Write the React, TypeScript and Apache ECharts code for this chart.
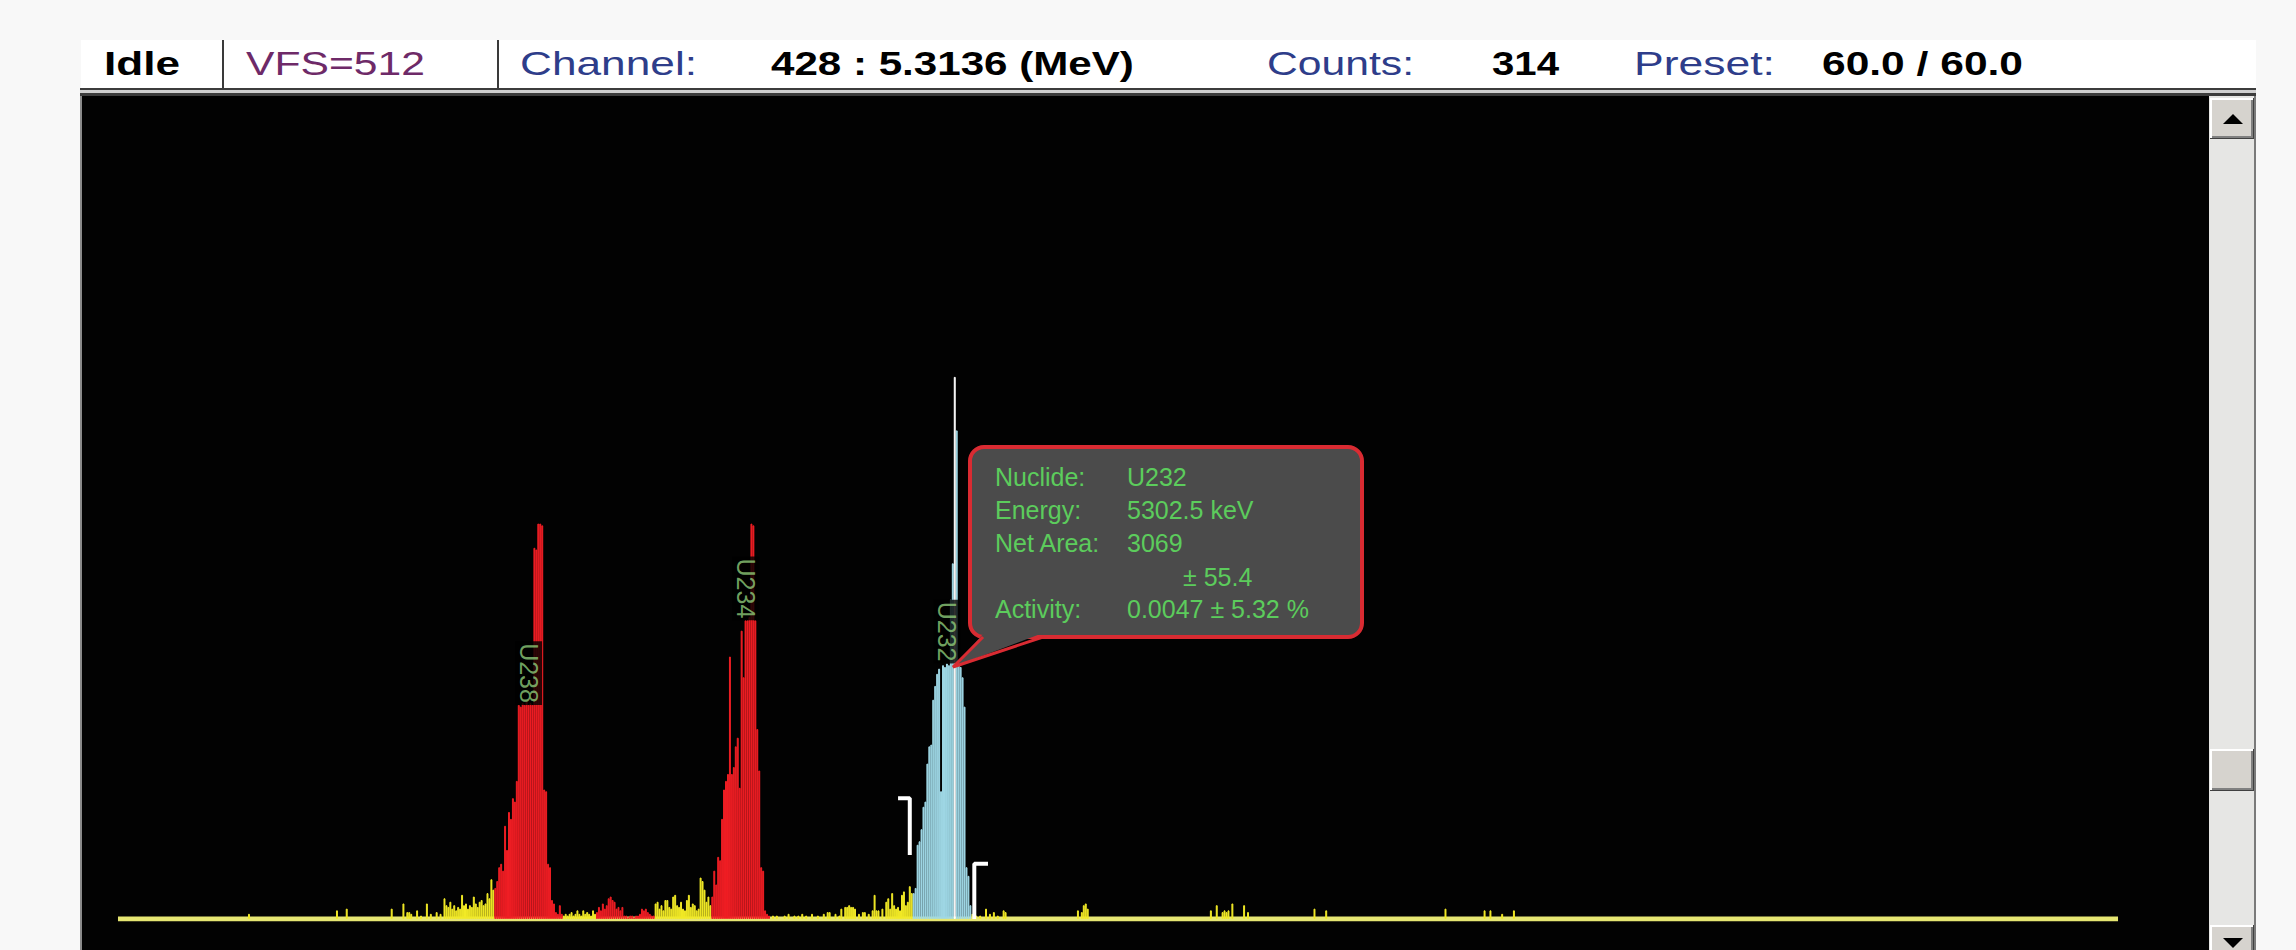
import React, { useEffect, useRef } from "react";
import * as echarts from "echarts";

// ---------- data ----------
const CHANNEL_COUNT = 1024;
const VERTICAL_FULL_SCALE = 512;

const statusText = "Idle";
const cursorChannel = 428;
const cursorEnergyMeV = 5.3136;
const cursorCounts = 314;
const presetElapsed = 60.0;
const presetTotal = 60.0;

// counts outside any region of interest (yellow) [channel, counts]
const backgroundCounts: [number, number][] = [
  [67, 3], [112, 5], [117, 6], [140, 6], [146, 9], [148, 4], [149, 4], [150, 3], [153, 5], [155, 2],
  [158, 9], [160, 3], [163, 4], [165, 3], [167, 12], [168, 8], [169, 7], [170, 10], [171, 6], [172, 8],
  [173, 5], [174, 7], [175, 6], [176, 14], [177, 8], [178, 9], [179, 6], [180, 8], [181, 7], [182, 13],
  [183, 9], [184, 7], [185, 10], [186, 11], [187, 8], [188, 9], [189, 15], [190, 12], [191, 23], [192, 17],
  [228, 2], [229, 3], [230, 2], [231, 3], [232, 4], [233, 2], [234, 3], [235, 5], [236, 3], [237, 2],
  [238, 5], [239, 3], [240, 4], [241, 3], [242, 2], [243, 5], [244, 3],
  [275, 9], [276, 10], [277, 6], [278, 8], [279, 5], [280, 11], [281, 11], [282, 7], [283, 6], [284, 13],
  [285, 14], [286, 8], [287, 7], [288, 10], [289, 6], [290, 5], [291, 11], [292, 14], [293, 7], [294, 9],
  [295, 8], [296, 5], [297, 6], [298, 24], [299, 22], [300, 17], [301, 10], [302, 13], [303, 8],
  [335, 2], [337, 2], [341, 2], [343, 3], [346, 2], [348, 2], [350, 3], [352, 2], [355, 3], [358, 2],
  [361, 3], [363, 4], [364, 4], [367, 3], [369, 2], [370, 6], [372, 7], [373, 7], [374, 8], [375, 7],
  [376, 7], [377, 6], [379, 3], [381, 4], [382, 4], [384, 3], [386, 5], [387, 14], [388, 5], [389, 5],
  [391, 6], [393, 10], [394, 12], [395, 6], [396, 15], [397, 8], [398, 6], [399, 7], [400, 5], [401, 14],
  [402, 16], [403, 8], [404, 10], [405, 19], [406, 15],
  [437, 3], [439, 2], [441, 2], [444, 6], [446, 3], [448, 4], [450, 2], [453, 5], [454, 4], [491, 5],
  [493, 4], [494, 8], [495, 9], [496, 6], [559, 5], [562, 8], [565, 4], [566, 5], [567, 4], [568, 5],
  [570, 9], [576, 8], [578, 4], [612, 6], [618, 5], [679, 6], [699, 5], [702, 5], [708, 3], [714, 5],
];

// U238 region (red)
const roiU238: [number, number][] = [
  [193, 18], [194, 22], [195, 30], [196, 32], [197, 28], [198, 54], [199, 40], [200, 62], [201, 58], [202, 70],
  [203, 68], [204, 80], [205, 124], [206, 123], [207, 125], [208, 124], [209, 126], [210, 124], [211, 125], [212, 124],
  [213, 215], [214, 214], [215, 229], [216, 229], [217, 228], [218, 75], [219, 74], [220, 32], [221, 30], [222, 11],
  [223, 9], [224, 4], [225, 3], [226, 8], [227, 3],
];

// U235 region (red, unlabelled)
const roiU235: [number, number][] = [
  [245, 4], [246, 7], [247, 5], [248, 9], [249, 6], [250, 8], [251, 12], [252, 13], [253, 11], [254, 10],
  [255, 6], [256, 7], [257, 5], [258, 7], [259, 2], [260, 2], [261, 1], [262, 2], [263, 2], [264, 1],
  [265, 2], [266, 2], [267, 3], [268, 6], [269, 5], [270, 6], [271, 4], [272, 3], [273, 2], [274, 2],
];

// U234 region (red)
const roiU234: [number, number][] = [
  [304, 13], [305, 28], [306, 20], [307, 36], [308, 34], [309, 58], [310, 75], [311, 80], [312, 84], [313, 152],
  [314, 84], [315, 88], [316, 100], [317, 105], [318, 76], [319, 167], [320, 140], [321, 173], [322, 173], [323, 175],
  [324, 229], [325, 228], [326, 173], [327, 110], [328, 86], [329, 30], [330, 28], [331, 5], [332, 3], [333, 2],
];

// U232 region (selected, light blue)
const roiU232: [number, number][] = [
  [407, 15], [408, 18], [409, 43], [410, 45], [411, 52], [412, 65], [413, 68], [414, 90], [415, 100], [416, 101],
  [417, 127], [418, 135], [419, 142], [420, 145], [421, 74], [422, 147], [423, 146], [424, 148], [425, 147], [426, 185],
  [427, 206], [428, 314], [429, 283], [430, 147], [431, 146], [432, 140], [433, 123], [434, 30], [435, 25], [436, 8],
];

const peakLabels = ["U238", "U234", "U232"];
const peakLabelChannels = [210, 321, 424];

// ROI boundary markers [channel, counts]
const roiLeftMarker: [number, number][] = [[399, 70], [405, 70], [405, 37]];
const roiRightMarker: [number, number][] = [[438, 0], [438, 32], [445, 32]];

// peak info box
const infoNuclide = "U232";
const infoEnergyKeV = 5302.5;
const infoNetArea = 3069;
const infoNetAreaErr = 55.4;
const infoActivity = "0.0047";
const infoActivityErrPct = 5.32;

// ---------- helpers ----------
const FONT = '"Liberation Sans", Arial, sans-serif';

function toDense(pairs: [number, number][]): (number | null)[] {
  const a: (number | null)[] = new Array(CHANNEL_COUNT).fill(null);
  pairs.forEach(([c, v]) => (a[c] = v));
  return a;
}

function measureScale(text: string, weight: string, size: number, target: number): number {
  const ctx = document.createElement("canvas").getContext("2d");
  if (!ctx) return 1;
  ctx.font = `${weight} ${size}px "Liberation Sans"`;
  const w = ctx.measureText(text).width;
  return w > 0 ? target / w : 1;
}

function buildOption() {
  const channels = Array.from({ length: CHANNEL_COUNT }, (_, i) => String(i));
  const redPairs = [...roiU238, ...roiU235, ...roiU234];
  const allDense = toDense([...backgroundCounts, ...redPairs, ...roiU232]);
  const blueNoCursor = roiU232.filter(([c]) => c !== cursorChannel);
  const cursorPair: [number, number][] = [[cursorChannel, cursorCounts]];

  const YELLOW = "#f2ea26";
  const RED = "#f01e24";
  const BLUE = "#9fd8e6";

  const barBase = (color: string, data: (number | null)[], z: number) => ({
    type: "bar",
    data,
    barWidth: "100%",
    barGap: "-100%",
    barCategoryGap: "0%",
    silent: true,
    z,
    itemStyle: { color, borderColor: color, borderWidth: 1 },
  });

  // header texts
  const headerY = 63;
  const headerSize = 34;
  const headerItems: [string, number, number, string, string][] = [
    [statusText, 104, 180, "#000000", "bold"],
    [`VFS=${VERTICAL_FULL_SCALE}`, 246, 425, "#6e2a68", "normal"],
    ["Channel:", 520, 697, "#2e3d8a", "normal"],
    [`${cursorChannel} : ${cursorEnergyMeV.toFixed(4)} (MeV)`, 771, 1134, "#000000", "bold"],
    ["Counts:", 1267, 1414, "#2e3d8a", "normal"],
    [`${cursorCounts}`, 1492, 1559, "#000000", "bold"],
    ["Preset:", 1634, 1775, "#2e3d8a", "normal"],
    [`${presetElapsed.toFixed(1)} / ${presetTotal.toFixed(1)}`, 1822, 2023, "#000000", "bold"],
  ];
  const headerTexts = headerItems.map(([text, x0, x1, color, weight]) => ({
    type: "text",
    x: x0,
    y: headerY,
    z: 20,
    scaleX: measureScale(text, weight, headerSize, x1 - x0),
    style: {
      text,
      fill: color,
      fontSize: headerSize,
      fontFamily: FONT,
      fontWeight: weight,
      verticalAlign: "middle",
      align: "left",
    },
  }));

  const bevelButton = (x: number, y: number, w: number, h: number) => [
    { type: "rect", z: 20, shape: { x, y, width: w, height: h }, style: { fill: "#404040" } },
    { type: "rect", z: 21, shape: { x, y, width: w - 1, height: h - 1 }, style: { fill: "#ffffff" } },
    { type: "rect", z: 22, shape: { x: x + 2, y: y + 2, width: w - 3, height: h - 3 }, style: { fill: "#808080" } },
    { type: "rect", z: 23, shape: { x: x + 2, y: y + 2, width: w - 5, height: h - 5 }, style: { fill: "#d6d3ce" } },
  ];

  const infoColor = "#5ccc5c";
  const infoText = (text: string, x: number, y: number) => ({
    type: "text",
    x,
    y,
    z: 120,
    style: { text, fill: infoColor, fontSize: 25, fontFamily: FONT, verticalAlign: "middle", align: "left" },
  });

  const graphic = [
    // header strip
    { type: "rect", z: -10, shape: { x: 81, y: 40, width: 2175, height: 48 }, style: { fill: "#ffffff" } },
    { type: "rect", z: 19, shape: { x: 222, y: 40, width: 2, height: 48 }, style: { fill: "#3a3a3a" } },
    { type: "rect", z: 19, shape: { x: 497, y: 40, width: 2, height: 48 }, style: { fill: "#3a3a3a" } },
    // sunken border below header
    { type: "rect", z: -10, shape: { x: 80, y: 88, width: 2176, height: 2 }, style: { fill: "#3c3c3c" } },
    { type: "rect", z: -10, shape: { x: 80, y: 90, width: 2176, height: 3 }, style: { fill: "#d0d0d0" } },
    { type: "rect", z: -10, shape: { x: 80, y: 93, width: 2176, height: 3 }, style: { fill: "#3c3c3c" } },
    // black spectrum panel
    { type: "rect", z: -10, shape: { x: 80, y: 96, width: 2130, height: 854 }, style: { fill: "#020202" } },
    { type: "rect", z: -9, shape: { x: 80, y: 96, width: 2, height: 854 }, style: { fill: "#8a8a8a" } },
    // scrollbar
    { type: "rect", z: 18, shape: { x: 2209, y: 96, width: 47, height: 854 }, style: { fill: "#e6e6e4" } },
    { type: "rect", z: 18, shape: { x: 2254, y: 96, width: 2, height: 854 }, style: { fill: "#7a7a7a" } },
    ...bevelButton(2210, 98, 44, 41),
    { type: "polygon", z: 25, shape: { points: [[2223, 124], [2243, 124], [2233, 114]] }, style: { fill: "#000000" } },
    ...bevelButton(2210, 749, 44, 42),
    ...bevelButton(2210, 925, 44, 40),
    { type: "polygon", z: 25, shape: { points: [[2223, 938], [2243, 938], [2233, 948]] }, style: { fill: "#000000" } },
    // info box
    {
      type: "rect",
      z: 110,
      shape: { x: 970, y: 447, width: 392, height: 190, r: 14 },
      style: { fill: "#4b4b4b", stroke: "#d92b32", lineWidth: 4 },
    },
    {
      type: "polygon",
      z: 111,
      shape: { points: [[984, 633], [1043, 633], [953, 667]] },
      style: { fill: "#4b4b4b" },
    },
    {
      type: "polyline",
      z: 112,
      shape: { points: [[983, 637], [953, 667], [1043, 637]] },
      style: { stroke: "#d92b32", lineWidth: 3, fill: null },
    },
    infoText("Nuclide:", 995, 477),
    infoText(infoNuclide, 1127, 477),
    infoText("Energy:", 995, 510),
    infoText(`${infoEnergyKeV.toFixed(1)} keV`, 1127, 510),
    infoText("Net Area:", 995, 543),
    infoText(`${infoNetArea}`, 1127, 543),
    infoText(`± ${infoNetAreaErr.toFixed(1)}`, 1183, 577),
    infoText("Activity:", 995, 609),
    infoText(`${infoActivity} ± ${infoActivityErrPct.toFixed(2)} %`, 1127, 609),
    ...headerTexts,
  ];

  return {
    animation: false,
    backgroundColor: "#f8f8f8",
    grid: { left: 117, right: 177, top: 35, bottom: 31, containLabel: false },
    xAxis: {
      type: "category",
      data: channels,
      boundaryGap: true,
      show: false,
    },
    yAxis: {
      type: "value",
      min: 0,
      max: VERTICAL_FULL_SCALE,
      show: false,
      splitLine: { show: false },
    },
    series: [
      {
        type: "line",
        data: [[0, 0], [CHANNEL_COUNT - 1, 0]],
        symbol: "none",
        silent: true,
        z: 1,
        lineStyle: { color: "#e6e672", width: 5 },
      },
      barBase(YELLOW, toDense(backgroundCounts), 2),
      barBase(RED, toDense(redPairs), 2),
      barBase(BLUE, toDense(blueNoCursor), 2),
      barBase("#ffffff", toDense(cursorPair), 3),
      {
        type: "line",
        data: roiLeftMarker,
        symbol: "none",
        silent: true,
        z: 5,
        lineStyle: { color: "#ffffff", width: 4 },
      },
      {
        type: "line",
        data: roiRightMarker,
        symbol: "none",
        silent: true,
        z: 5,
        lineStyle: { color: "#ffffff", width: 4 },
      },
      {
        type: "scatter",
        z: 6,
        silent: true,
        symbolSize: 1,
        itemStyle: { color: "rgba(0,0,0,0)" },
        data: peakLabels.map((name, i) => ({
          name,
          value: [peakLabelChannels[i], allDense[peakLabelChannels[i]] ?? 0],
        })),
        label: {
          show: true,
          position: "inside",
          formatter: "{b}",
          rotate: -90,
          align: "right",
          verticalAlign: "middle",
          color: "#8fcc7a",
          fontSize: 25,
          fontFamily: FONT,
          backgroundColor: "#000000",
          padding: [1, 2, 1, 2],
        },
      },
    ],
    graphic,
  };
}

export default function App() {
  const ref = useRef<HTMLDivElement>(null);
  useEffect(() => {
    if (!ref.current) return;
    const chart = echarts.init(ref.current, null, { renderer: "svg" });
    chart.setOption(buildOption() as any);
    return () => chart.dispose();
  }, []);
  return (
    <div
      ref={ref}
      style={{ position: "fixed", left: 0, top: 0, width: 2296, height: 950 }}
    />
  );
}
